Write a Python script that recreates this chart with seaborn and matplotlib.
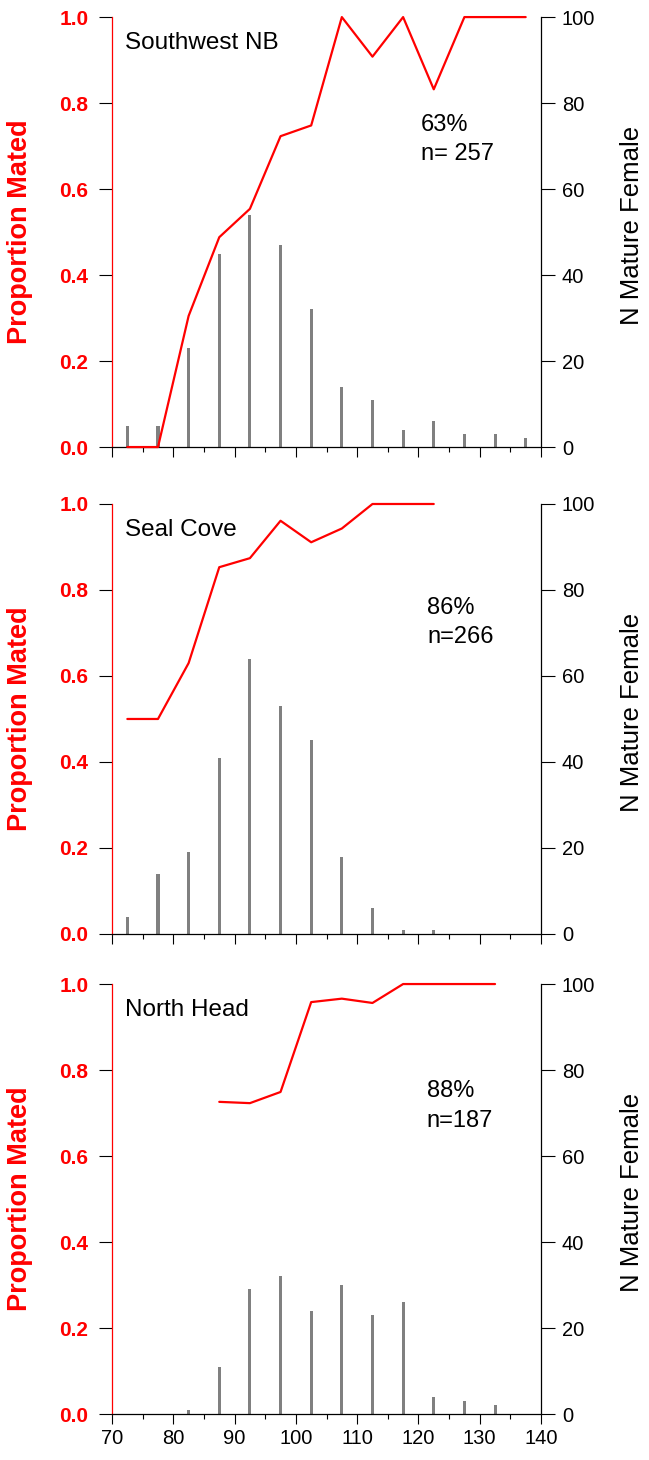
# Proportion mated and number of mature females by size class, three sites

import matplotlib.pyplot as plt
from matplotlib.ticker import MultipleLocator
import pandas as pd
import seaborn as sns

sns.set_style('ticks')
plt.rcParams['font.family'] = ['Liberation Sans', 'DejaVu Sans']
for key in ['text.color', 'axes.labelcolor', 'xtick.color', 'ytick.color']:
    plt.rcParams[key] = 'black'

# size class midpoints (mm)
sw_sizes = [72.5, 77.5, 82.5, 87.5, 92.5, 97.5, 102.5, 107.5, 112.5, 117.5, 122.5, 127.5, 132.5, 137.5]
sw_counts = [5, 5, 23, 45, 54, 47, 32, 14, 11, 4, 6, 3, 3, 2]
sw_prop = [0.0, 0.0, 0.305, 0.488, 0.554, 0.723, 0.748, 1.0, 0.908, 1.0, 0.832, 1.0, 1.0, 1.0]

sc_sizes = [72.5, 77.5, 82.5, 87.5, 92.5, 97.5, 102.5, 107.5, 112.5, 117.5, 122.5]
sc_counts = [4, 14, 19, 41, 64, 53, 45, 18, 6, 1, 1]
sc_prop = [0.5, 0.5, 0.63, 0.853, 0.874, 0.961, 0.911, 0.943, 1.0, 1.0, 1.0]

nh_bar_sizes = [82.5, 87.5, 92.5, 97.5, 102.5, 107.5, 112.5, 117.5, 122.5, 127.5, 132.5]
nh_counts = [1, 11, 29, 32, 24, 30, 23, 26, 4, 3, 2]
nh_line_sizes = [87.5, 92.5, 97.5, 102.5, 107.5, 112.5, 117.5, 122.5, 127.5, 132.5]
nh_prop = [0.726, 0.723, 0.749, 0.958, 0.966, 0.956, 1.0, 1.0, 1.0, 1.0]

sites = ['Southwest NB', 'Seal Cove', 'North Head']
pct_labels = ['63%', '86%', '88%']
n_labels = ['n= 257', 'n=266', 'n=187']
prop_ticks = [0.0, 0.2, 0.4, 0.6, 0.8, 1.0]

panels = [
    (sw_sizes, sw_counts, sw_sizes, sw_prop),
    (sc_sizes, sc_counts, sc_sizes, sc_prop),
    (nh_bar_sizes, nh_counts, nh_line_sizes, nh_prop),
]

RED = '#ff0000'
GRAY = '#808080'

fig = plt.figure(figsize=(6.49, 14.6), dpi=100)
bottoms = [0.6938, 0.3603, 0.0315]
note_x = [120.4, 121.45, 121.35]
pct_y = [0.735, 0.743, 0.738]
n_y = [0.667, 0.676, 0.667]

for i, (bx, by, lx, ly) in enumerate(panels):
    ax = fig.add_axes([0.1726, bottoms[i], 0.661, 0.2945])
    ax2 = ax.twinx()

    # bars: number of mature females (right axis)
    bars = pd.DataFrame({'size': bx, 'n': by})
    sns.barplot(data=bars, x='size', y='n', native_scale=True, width=0.1,
                color=GRAY, saturation=1, linewidth=0, errorbar=None, ax=ax2)

    # line: proportion mated (left axis)
    line = pd.DataFrame({'size': lx, 'prop': ly})
    sns.lineplot(data=line, x='size', y='prop', color=RED, linewidth=1.6,
                 estimator=None, ax=ax, zorder=3, clip_on=False)

    ax.set_zorder(ax2.get_zorder() + 1)
    ax.patch.set_visible(False)

    ax.xaxis.set_major_locator(MultipleLocator(10))
    ax.xaxis.set_minor_locator(MultipleLocator(5))
    ax2.yaxis.set_major_locator(MultipleLocator(20))
    ax.set_yticks(prop_ticks)
    ax.set_yticklabels(['{:.1f}'.format(v) for v in prop_ticks],
                       fontsize=15, fontweight='bold', color=RED)
    ax.set_xlim(70, 140)
    ax.set_ylim(0, 1.0)
    ax2.set_ylim(0, 100)

    # spines
    ax.spines['top'].set_visible(False)
    ax.spines['right'].set_visible(False)
    ax.spines['left'].set_color(RED)
    ax.spines['bottom'].set_color('black')
    for s in ['top', 'left', 'bottom']:
        ax2.spines[s].set_visible(False)
    ax2.spines['right'].set_color('black')
    for s in ax.spines.values():
        s.set_linewidth(0.9)
    ax2.spines['right'].set_linewidth(0.9)

    # ticks
    ax.tick_params(axis='y', direction='out', length=9.5, width=0.8, color='black', pad=7.5)
    ax.tick_params(axis='x', which='major', direction='out', length=7, width=0.8,
                   color='black', labelsize=14.5, pad=4)
    ax.tick_params(axis='x', which='minor', direction='out', length=3.6, width=0.8,
                   color='black')
    ax2.tick_params(axis='y', direction='out', length=10, width=0.8, color='black',
                    labelsize=14.5, pad=5)
    if i < 2:
        ax.tick_params(axis='x', labelbottom=False)

    # axis labels
    ax.set_xlabel('')
    ax2.set_xlabel('')
    ax.set_ylabel('Proportion Mated', color=RED, fontsize=19.5, fontweight='bold')
    ax.yaxis.set_label_coords(-0.184, 0.5)
    ax2.set_ylabel('N Mature Female', fontsize=18.5, rotation=90)
    ax2.yaxis.set_label_coords(1.183, 0.515)

    # annotations
    ax.text(72.1, 0.926, sites[i], fontsize=17.5, va='baseline', ha='left')
    ax.text(note_x[i], pct_y[i], pct_labels[i], fontsize=17, va='baseline', ha='left')
    ax.text(note_x[i], n_y[i], n_labels[i], fontsize=17, va='baseline', ha='left')

fig.savefig('out.png', dpi=100)
